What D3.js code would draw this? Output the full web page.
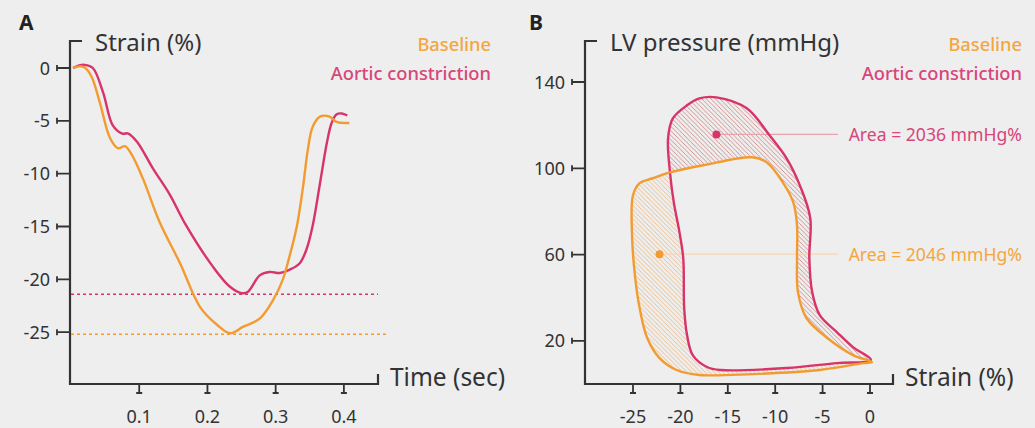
<!DOCTYPE html>
<html>
<head>
<meta charset="utf-8">
<script src="https://cdn.jsdelivr.net/npm/d3@7"></script>
<style>
  html, body { margin: 0; padding: 0; background: #eeeeee; }
  svg { display: block; font-family: "Noto Sans", "Open Sans", sans-serif; }
</style>
</head>
<body>
<svg id="chart" width="1035" height="428"></svg>
<script>
// ---------- Data ----------
const timeBaseline   = [0.003, 0.012, 0.02, 0.03, 0.042, 0.057, 0.069, 0.079, 0.089, 0.105, 0.13, 0.16, 0.189, 0.214, 0.233, 0.252, 0.277, 0.296, 0.31, 0.32, 0.331, 0.34, 0.347, 0.354, 0.365, 0.379, 0.389, 0.408];
const strainBaseline = [0, 0.15, 0.05, -0.8, -3.2, -6.6, -7.6, -7.4, -8.2, -10.4, -14.6, -18.5, -22.6, -24.3, -25.1, -24.5, -23.7, -22.0, -20.1, -17.9, -15.0, -11.3, -7.8, -5.6, -4.6, -4.6, -5.1, -5.2];
const timeAortic     = [0.003, 0.012, 0.02, 0.032, 0.047, 0.061, 0.075, 0.084, 0.097, 0.12, 0.145, 0.167, 0.208, 0.233, 0.25, 0.259, 0.277, 0.291, 0.306, 0.32, 0.335, 0.345, 0.354, 0.365, 0.375, 0.382, 0.389, 0.397, 0.405];
const strainAortic   = [0, 0.25, 0.3, 0, -2.3, -5.4, -6.2, -6.2, -7.0, -9.5, -12.0, -14.7, -18.8, -20.7, -21.3, -21.2, -19.6, -19.3, -19.4, -19.1, -18.5, -17.2, -15.0, -10.9, -7.1, -5.2, -4.4, -4.3, -4.5];
const peakBaseline = -25.2;
const peakAortic   = -21.4;

const loopBaselineStrain   = [0.2, -1.8, -4.5, -6.7, -7.6, -7.7, -7.7, -8.1, -9.2, -10.9, -12.4, -17.6, -21.1, -22.9, -24.3, -25.0, -25.1, -24.8, -24.3, -23.5, -22.2, -20.4, -18.0, -12.4, -5.3, -0.7];
const loopBaselinePressure = [10.2, 13.4, 21.3, 30.6, 42.6, 58.3, 73.6, 84.3, 93.5, 102.8, 105.1, 101.4, 98.1, 95.4, 93.1, 87.5, 69.0, 50.5, 35.2, 21.3, 12.0, 6.5, 4.2, 4.6, 6.5, 9.7];
const loopAorticStrain     = [0.1, -1.8, -3.5, -5.3, -6.1, -6.4, -6.3, -7.4, -8.8, -10.6, -13.0, -16.2, -18.0, -19.3, -20.8, -21.3, -21.1, -20.7, -20.1, -19.7, -19.6, -19.3, -18.7, -17.2, -15.8, -8.8, -3.5];
const loopAorticPressure   = [11.1, 17.1, 24.1, 31.9, 42.6, 58.3, 76.9, 92.1, 104.6, 115.3, 127.8, 132.9, 132.4, 129.2, 123.1, 113.9, 98.1, 84.3, 70.4, 58.3, 35.2, 22.7, 13.4, 7.9, 6.5, 7.4, 9.7];

const areaLabels      = ["Area = 2036 mmHg%", "Area = 2046 mmHg%"];
const areaDotStrain   = [-16.2, -22.2];
const areaDotPressure = [115.7, 60.2];

const legendLabels = ["Baseline", "Aortic constriction"];
const timeTicks = [0.1, 0.2, 0.3, 0.4];
const strainTicksA = [0, -5, -10, -15, -20, -25];
const strainTicksB = [-25, -20, -15, -10, -5, 0];
const pressureTicks = [20, 60, 100, 140];

// ---------- Styles ----------
const ORANGE = "#f29b30", PINK = "#d8336a";
const ORANGE_TXT = "#f4a63e", PINK_TXT = "#d8457a";
const AXIS = "#333333", BG = "#eeeeee";

const svg = d3.select("#chart");
svg.append("rect").attr("width", 1035).attr("height", 428).attr("fill", BG);

const defs = svg.append("defs");
function hatch(id, color) {
  const p = defs.append("pattern").attr("id", id).attr("patternUnits", "userSpaceOnUse")
    .attr("width", 4.5).attr("height", 4.5);
  p.append("path").attr("d", "M-1,3.5 l2,2 M0,0 l4.5,4.5 M3.5,-1 l2,2")
    .attr("stroke", color).attr("stroke-width", 0.9);
}
hatch("hatchOrange", "#ebbc88");
hatch("hatchPink", "#cd8a8a");

// ---------- Axis helper ----------
function drawAxes(g, x, y, xTicks, yTicks, xFmt, yFmt, x0, x1, y0, y1) {
  g.append("path").attr("d", `M${x0 + 12},${y1} H${x0} V${y0} H${x1} V${y0 - 10}`)
    .attr("fill", "none").attr("stroke", AXIS).attr("stroke-width", 2.2);
  yTicks.forEach(v => {
    const yy = y(v);
    g.append("path").attr("d", `M${x0},${yy} H${x0 - 13} M${x0 - 13},${yy - 3} V${yy + 3}`)
      .attr("stroke", AXIS).attr("stroke-width", 1.8).attr("fill", "none");
    g.append("text").attr("x", x0 - 20).attr("y", yy + 6.5).attr("text-anchor", "end")
      .attr("font-size", 18).attr("fill", "#333").text(yFmt(v));
  });
  xTicks.forEach(v => {
    const xx = x(v);
    g.append("path").attr("d", `M${xx},${y0} V${y0 + 9} M${xx - 3},${y0 + 9} H${xx + 3}`)
      .attr("stroke", AXIS).attr("stroke-width", 1.8).attr("fill", "none");
    g.append("text").attr("x", xx).attr("y", y0 + 39).attr("text-anchor", "middle")
      .attr("font-size", 18).attr("fill", "#333").text(xFmt(v));
  });
}

// ---------- Panel A ----------
const xA = d3.scaleLinear().domain([0, 0.45]).range([71, 378]);
const yA = d3.scaleLinear().domain([-30, 0]).range([385, 68]);
const gA = svg.append("g");
drawAxes(gA, xA, yA, timeTicks, strainTicksA, d3.format(".1f"), d => String(d), 70, 378, 384, 41);

gA.append("text").attr("x", 19).attr("y", 30).attr("font-size", 21).attr("font-weight", "bold").attr("fill", "#222").text("A");
gA.append("text").attr("x", 95).attr("y", 51).attr("font-size", 24).attr("fill", "#333").text("Strain (%)");
gA.append("text").attr("x", 390).attr("y", 386).attr("font-size", 24.5).attr("fill", "#333").text("Time (sec)");
gA.append("text").attr("x", 491).attr("y", 51).attr("text-anchor", "end").attr("font-size", 18.3).attr("font-weight", 500).attr("fill", ORANGE_TXT).text(legendLabels[0]);
gA.append("text").attr("x", 491).attr("y", 80).attr("text-anchor", "end").attr("font-size", 18.3).attr("font-weight", 500).attr("fill", PINK_TXT).text(legendLabels[1]);

gA.append("line").attr("x1", xA(0)).attr("x2", xA(0.45)).attr("y1", yA(peakAortic)).attr("y2", yA(peakAortic))
  .attr("stroke", PINK).attr("stroke-width", 1.5).attr("stroke-dasharray", "3,3");
gA.append("line").attr("x1", xA(0)).attr("x2", xA(0.462)).attr("y1", yA(peakBaseline)).attr("y2", yA(peakBaseline))
  .attr("stroke", ORANGE).attr("stroke-width", 1.5).attr("stroke-dasharray", "3,3");

const lineA = d3.line().x(d => xA(d[0])).y(d => yA(d[1])).curve(d3.curveCatmullRom.alpha(0.5));
gA.append("path").attr("d", lineA(d3.zip(timeAortic, strainAortic)))
  .attr("fill", "none").attr("stroke", PINK).attr("stroke-width", 2.4);
gA.append("path").attr("d", lineA(d3.zip(timeBaseline, strainBaseline)))
  .attr("fill", "none").attr("stroke", ORANGE).attr("stroke-width", 2.4);

// ---------- Panel B ----------
const xB = d3.scaleLinear().domain([-30, 0]).range([585.6, 870]);
const yB = d3.scaleLinear().domain([0, 140]).range([384, 82]);
const gB = svg.append("g");
drawAxes(gB, xB, yB, strainTicksB, pressureTicks, d => String(d), d => String(d), 585, 893, 384, 41);

gB.append("text").attr("x", 529).attr("y", 30).attr("font-size", 21).attr("font-weight", "bold").attr("fill", "#222").text("B");
gB.append("text").attr("x", 610).attr("y", 51).attr("font-size", 24).attr("fill", "#333").text("LV pressure (mmHg)");
gB.append("text").attr("x", 905).attr("y", 386).attr("font-size", 24.5).attr("fill", "#333").text("Strain (%)");
gB.append("text").attr("x", 1022).attr("y", 51).attr("text-anchor", "end").attr("font-size", 18.3).attr("font-weight", 500).attr("fill", ORANGE_TXT).text(legendLabels[0]);
gB.append("text").attr("x", 1022).attr("y", 80).attr("text-anchor", "end").attr("font-size", 18.3).attr("font-weight", 500).attr("fill", PINK_TXT).text(legendLabels[1]);

const loopLine = d3.line().x(d => xB(d[0])).y(d => yB(d[1])).curve(d3.curveCatmullRomClosed.alpha(0.5));
const baseLoop = loopLine(d3.zip(loopBaselineStrain, loopBaselinePressure));
const aortLoop = loopLine(d3.zip(loopAorticStrain, loopAorticPressure));

defs.append("clipPath").attr("id", "clipBase").append("path").attr("d", baseLoop);

gB.append("path").attr("d", baseLoop).attr("fill", "url(#hatchOrange)");
gB.append("path").attr("d", aortLoop).attr("fill", "url(#hatchPink)");
gB.append("path").attr("d", aortLoop).attr("fill", BG).attr("clip-path", "url(#clipBase)");

const areaColors = [PINK, ORANGE];
const areaLineColors = ["#e8a3ad", "#f5d6b0"];
const areaTxtColors = [PINK_TXT, ORANGE_TXT];
areaLabels.forEach((lab, i) => {
  const cx = xB(areaDotStrain[i]), cy = yB(areaDotPressure[i]);
  gB.append("line").attr("x1", cx).attr("x2", 838).attr("y1", cy).attr("y2", cy)
    .attr("stroke", areaLineColors[i]).attr("stroke-width", 1.2);
  gB.append("text").attr("x", 1022).attr("y", cy + 7).attr("text-anchor", "end")
    .attr("font-size", 17.6).attr("fill", areaTxtColors[i]).text(lab);
});

gB.append("path").attr("d", aortLoop).attr("fill", "none").attr("stroke", PINK).attr("stroke-width", 2.4);
gB.append("path").attr("d", baseLoop).attr("fill", "none").attr("stroke", ORANGE).attr("stroke-width", 2.4);

areaLabels.forEach((lab, i) => {
  gB.append("circle").attr("cx", xB(areaDotStrain[i])).attr("cy", yB(areaDotPressure[i])).attr("r", 4)
    .attr("fill", areaColors[i]);
});
</script>
</body>
</html>
